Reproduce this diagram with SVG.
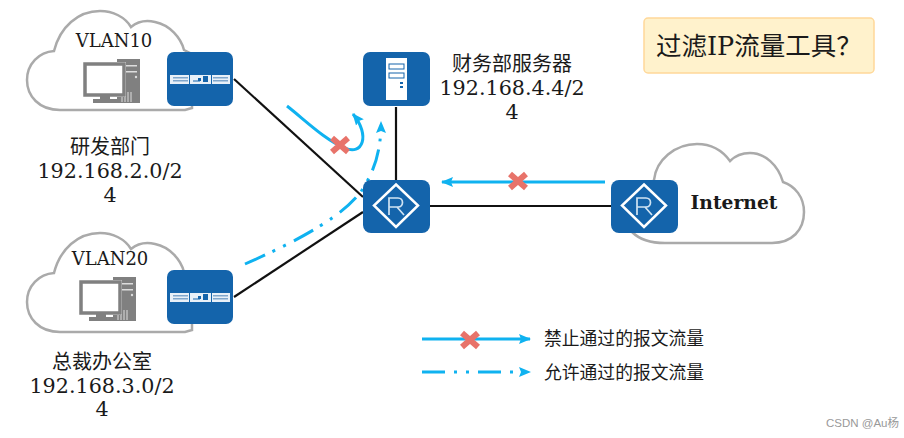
<svg xmlns="http://www.w3.org/2000/svg" xmlns:xlink="http://www.w3.org/1999/xlink" width="904" height="438" viewBox="0 0 904 438">
<style>
text{font-family:"DejaVu Serif","Noto Sans CJK SC",serif;font-size:20px;fill:#1a1a1a;text-anchor:middle}
.num{font-size:20.700px}
.vl{font-size:18px}
.cloud{fill:#fff;stroke:#aaaaaa;stroke-width:2.5}
.dev{fill:#1464ab}
.w{fill:#e8f0f8}
.wl{fill:none;stroke:#fff;stroke-width:2.500}
.link{fill:none;stroke:#111;stroke-width:2.2}
.flow{fill:none;stroke:#0fb2f0;stroke-width:3}
.dd{stroke-dasharray:22 8 3 9 3 9}
.pc{fill:#808080}
.x{fill:none;stroke:#e8736a;stroke-width:6}
.leg{font-family:"Noto Sans CJK SC","DejaVu Sans",sans-serif;font-size:17.800px;text-anchor:start}
</style>
<defs>
<marker id="ah" markerUnits="userSpaceOnUse" markerWidth="14" markerHeight="14" refX="11" refY="7" orient="auto"><path d="M0 2L12 7L0 12L2 7Z" fill="#0fb2f0"/></marker>
<path id="cl" d="M60 110C39 110 27 96 27 80C27 64 39 52 54 51C60 27 78 11 100 11C113 11 125 17 131 27C137 22 146 20 155 22C170 25 181 38 184 50L192 54V108L185 110Z"/>
<g id="sw"><rect class="dev" width="66" height="54" rx="7"/><rect class="w" x="3" y="23" width="60" height="9"/><g fill="#7fa6cc"><rect x="6" y="25" width="15" height="1.500"/><rect x="6" y="28" width="15" height="1.500"/><rect x="46" y="25" width="15" height="1.500"/><rect x="46" y="28" width="15" height="1.500"/></g><g fill="#1464ab"><rect x="22" y="22" width="1" height="10"/><rect x="44" y="22" width="1" height="10"/><rect x="26" y="28.500" width="7" height="1"/><rect x="31" y="26" width="3" height="3"/><rect x="36" y="24" width="5" height="6"/></g></g>
<g id="rt"><rect class="dev" width="67" height="53" rx="8"/><path class="wl" d="M33 4.500L55 25.500L33 47L11 25.500Z"/><path d="M26 35V18H35C41 18 41 27 35 27H26M34 27L41 35" fill="none" stroke="#cfe3f3" stroke-width="1.700"/></g>
<g id="pcI"><rect class="pc" x="117" y="0" width="23" height="44"/><rect x="120" y="6" width="17" height="1.500" fill="#ddd"/><rect x="120" y="12" width="17" height="1.500" fill="#ddd"/><circle cx="136" cy="18" r="1.200" fill="#ddd"/><path d="M122 43V33M125 43V33M128 43V33M131 43V33" stroke="#ddd" stroke-width="1"/><rect x="83" y="3" width="43" height="35" fill="#fff"/><rect x="85" y="5" width="39" height="31" fill="#fff" stroke="#808080" stroke-width="3.500"/><rect x="100" y="37" width="10" height="4" class="pc"/><rect x="93" y="40" width="25" height="4" class="pc"/></g>
<path id="xm" d="M-8 -7L8 7M8 -7L-8 7"/>
</defs>

<g id="connectors">
<path class="link" d="M234 79L363 197"/>
<path class="link" d="M234 297L363 212"/>
<path class="link" d="M396 107V180"/>
<path class="link" d="M430 206H611"/>
<path class="flow" marker-end="url(#ah)" d="M287 106C305 120 325 140 345 148C362 156 371 136 353 114"/>
<path class="flow dd" marker-end="url(#ah)" d="M245 264C300 240 345 215 362 190C375 170 381 150 381 122"/>
<path class="flow" marker-end="url(#ah)" d="M605 182H442"/>
<use href="#xm" class="x" x="340" y="145"/>
<use href="#xm" class="x" x="518" y="181"/>
</g>

<g id="vlan10"><use href="#cl" class="cloud"/><use href="#pcI" y="59"/><text class="vl" x="114" y="47">VLAN10</text></g>
<g id="vlan20"><use href="#cl" class="cloud" y="222"/><use href="#pcI" x="-4" y="277"/><text class="vl" x="110" y="265">VLAN20</text></g>
<g id="cloud-internet"><path class="cloud" d="M632 232C640 240 650 243 665 243H772C792 243 804 230 804 212C804 197 795 186 783 182C778 165 765 153 750 153C743 153 735 156 730 161C722 150 710 144 697 144C675 144 656 160 654 180L640 200Z"/><text x="734" y="209" style="font-weight:700;font-size:18.700px">Internet</text></g>
<g id="switch1"><use href="#sw" x="167" y="52"/></g>
<g id="switch2"><use href="#sw" x="167" y="270"/></g>
<g id="server"><rect class="dev" x="363" y="52" width="67" height="54" rx="7"/><rect fill="#fff" x="386" y="58" width="21" height="42"/><rect x="389" y="64" width="15" height="5" fill="none" stroke="#1464ab"/><rect x="389" y="73" width="15" height="5" fill="none" stroke="#1464ab"/><rect x="400" y="82" width="3" height="2" fill="#1464ab"/><rect x="400" y="86" width="3" height="2" fill="#1464ab"/></g>
<g id="router1"><use href="#rt" x="363" y="180"/></g>
<g id="router2"><use href="#rt" x="611" y="180"/></g>

<g id="label-rd"><text x="110" y="154">研发部门</text><text class="num" x="110" y="178">192.168.2.0/2</text><text class="num" x="110" y="202">4</text></g>
<g id="label-ceo"><text x="102" y="369">总裁办公室</text><text class="num" x="102" y="393">192.168.3.0/2</text><text class="num" x="102" y="416">4</text></g>
<g id="label-fin"><text x="512" y="71">财务部服务器</text><text class="num" x="512" y="95">192.168.4.4/2</text><text class="num" x="512" y="119">4</text></g>

<g id="title"><rect x="644" y="18" width="230" height="55" rx="4" fill="#fff2cc" stroke="#ffd899" stroke-width="1.500"/><text x="656" y="55" style="font-size:25.500px;text-anchor:start">过滤IP流量工具？</text></g>

<g id="legend">
<path class="flow" marker-end="url(#ah)" d="M422 339H530"/>
<use href="#xm" class="x" x="470" y="340"/>
<path class="flow" style="stroke-dasharray:23 9 3 9 3 9" marker-end="url(#ah)" d="M422 372H530"/>
<text class="leg" x="544" y="345">禁止通过的报文流量</text>
<text class="leg" x="544" y="379">允许通过的报文流量</text>
</g>
<text x="826" y="427" style="font-family:'Liberation Sans','Noto Sans CJK SC',sans-serif;font-size:11.500px;fill:#999;text-anchor:start">CSDN @Au杨</text>
</svg>
